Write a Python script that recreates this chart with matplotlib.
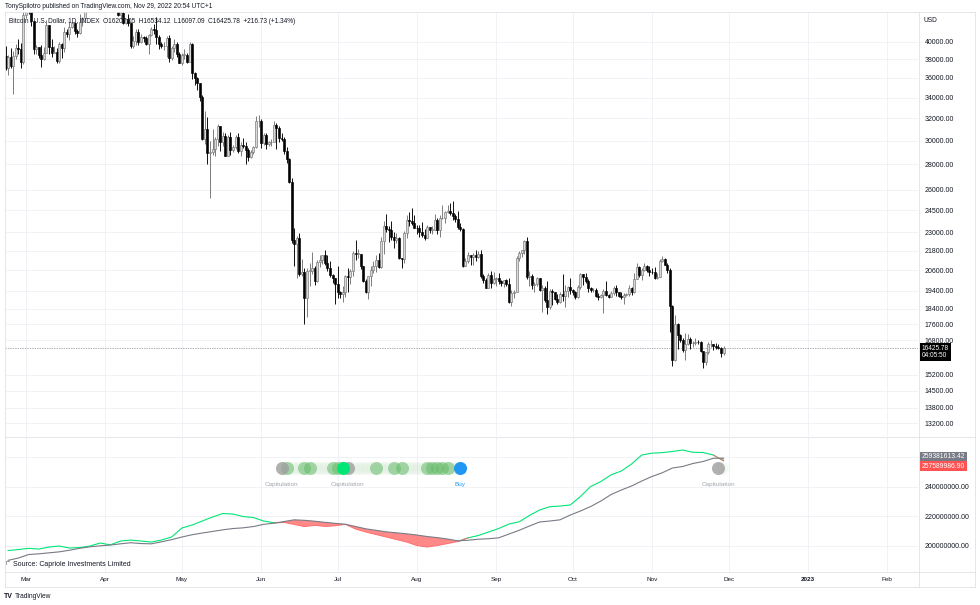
import numpy as np
import pandas as pd
import matplotlib
matplotlib.use('Agg')
import matplotlib.pyplot as plt
import matplotlib.dates as mdates
from matplotlib.lines import Line2D

plt.rcParams['font.family'] = ['Liberation Sans', 'DejaVu Sans']

W, H = 980, 605

# --- daily BTC candles, 21 Feb 2022 .. 29 Nov 2022 (open = previous close) ---
first_open = 38380
closes = [
    37020, 38250, 37250, 38330, 39220, 39110, 37700, 43180,  # Feb
    44420, 43900, 42450, 39150, 39400, 38420, 37990, 38730, 41950, 39430,
    38730, 38810, 37780, 39670, 39280, 41110, 40920, 41770, 42240, 41260,
    41000, 42360, 42890, 43960, 44350, 44500, 46820, 47130, 47430, 47060, 45530,  # Mar
    46280, 45810, 46410, 46580, 45500, 43170, 43440, 42250, 42750, 42160,
    39530, 40080, 41150, 39940, 40550, 40380, 39680, 40800, 41500, 41370,
    40480, 39710, 39450, 39450, 40430, 38110, 39240, 39740, 38600, 37640,  # Apr
    38470, 38520, 37720, 39690, 36550, 36010, 35470, 34060, 30100, 31020,
    28940, 29050, 29280, 30100, 31300, 29850, 30420, 28700, 30310, 29200,
    29430, 30300, 29110, 29650, 29540, 29200, 28630, 29030, 29470, 31730, 31800,  # May
    29800, 30450, 29700, 29860, 29910, 31370, 31130, 30200, 30110, 29090,
    28420, 26570, 22490, 22210, 22580, 20380, 20470, 19000, 20550, 20570,
    20720, 19970, 21100, 21230, 21500, 21040, 20740, 20280, 20100, 19780,  # Jun
    19300, 19240, 19300, 20230, 20190, 20550, 21620, 21590, 21590, 20850,
    19960, 19330, 20230, 20590, 20830, 21200, 20790, 22430, 23410, 23230,
    23160, 22680, 22450, 22580, 21310, 21250, 22950, 23850, 23780, 23640, 23300,  # Jul
    23270, 22980, 22820, 22620, 23310, 23170, 23170, 23810, 23160, 23950,
    23950, 24400, 24440, 24310, 24100, 23860, 23340, 23210, 20830, 21140,
    21520, 21400, 21530, 21370, 21560, 20240, 20040, 19550, 20280, 19810, 20050,  # Aug
    20130, 19950, 19830, 19990, 19800, 18790, 19290, 19320, 21360, 21650,
    21830, 22400, 20170, 20230, 19700, 19800, 20110, 19420, 19540, 18870,
    18480, 19400, 19300, 18930, 18800, 19220, 19080, 19410, 19590, 19430,  # Sep
    19310, 19060, 19620, 20340, 20160, 19960, 19530, 19420, 19440, 19130,
    19060, 19150, 19380, 19180, 19070, 19260, 19550, 19330, 19120, 19040,
    19170, 19200, 19570, 19330, 20090, 20770, 20290, 20600, 20820, 20630, 20490,  # Oct
    20480, 20150, 20210, 21150, 21300, 20910, 20590, 18540, 15880, 17590,
    17040, 16800, 16330, 16620, 16880, 16660, 16680, 16700, 16690, 16280,
    15780, 16230, 16600, 16600, 16520, 16460, 16440, 16209, 16426,  # Nov
]
highs = [
    39500, 38450, 39250, 38970, 39700, 40300, 39850, 44000,
    44950, 45400, 44100, 42500, 39650, 39400, 39550, 39350, 42550, 41950,
    40250, 39450, 39300, 39900, 39850, 41700, 41450, 42300, 42400, 42300,
    41550, 43350, 43000, 44200, 45100, 44800, 46900, 48100, 48200, 47650, 47600,
    46700, 47200, 47050, 46850, 47200, 45500, 43900, 43950, 42800, 43400,
    42400, 40700, 41550, 41450, 40850, 40700, 40600, 40950, 41750, 42150,
    42950, 40800, 39950, 39900, 40600, 40800, 39450, 40350, 39900, 38800,
    38650, 39150, 38650, 39950, 39800, 36650, 36100, 35500, 34250, 32650,
    32150, 30000, 31000, 30300, 31450, 31300, 30750, 30650, 30500, 30750,
    29600, 30450, 30650, 29850, 30200, 29850, 29400, 29200, 29550, 32200, 32300,
    31950, 30650, 30650, 29950, 30150, 31750, 31550, 31300, 30650, 30350,
    29450, 28550, 26900, 23300, 22750, 22950, 21300, 20750, 20750, 21000,
    21700, 20850, 21200, 21500, 21550, 21850, 21500, 21150, 20350, 20150,
    20850, 19400, 19650, 20300, 20700, 20650, 21800, 22450, 21900, 21600,
    20850, 20050, 20250, 20850, 21150, 21550, 21650, 22700, 23750, 24250,
    23400, 23750, 23000, 22950, 22650, 21350, 23100, 24200, 24400, 24650, 24150,
    23500, 23450, 23650, 23200, 23450, 23350, 23400, 24250, 23950, 24200,
    24900, 24450, 24900, 25050, 25200, 24250, 24450, 23600, 23250, 21350,
    21700, 21550, 21650, 21850, 21800, 21850, 20350, 20150, 20400, 20550, 20500,
    20200, 20450, 20000, 20000, 20050, 20150, 19450, 19450, 21450, 21800,
    21850, 22450, 22700, 20550, 20350, 19900, 20200, 20150, 19700, 19650,
    19950, 19500, 19500, 19300, 19200, 19300, 20350, 19750, 19650, 20150,
    19480, 19400, 19700, 20450, 20350, 20450, 20050, 19600, 19550, 19550,
    19250, 19220, 19500, 19950, 19200, 19400, 19650, 19700, 19350, 19350,
    19250, 19250, 19700, 19600, 20400, 21000, 20850, 20750, 21050, 20900, 20850,
    20700, 20800, 20400, 21300, 21450, 21350, 21000, 20700, 18600, 18100,
    17650, 17100, 16900, 17150, 17100, 16950, 16750, 16900, 16800, 16750,
    16300, 16250, 16700, 16800, 16600, 16650, 16600, 16480, 16534,
]
lows = [
    36800, 36350, 37050, 34330, 38020, 38570, 37000, 37450,
    42850, 43350, 41850, 38600, 38600, 38100, 37160, 37900, 38650, 38550,
    38230, 38650, 37580, 37600, 38150, 38850, 40550, 40200, 41650, 40950,
    40500, 40900, 41900, 42600, 43600, 44100, 44400, 46650, 46950, 46550, 45200,
    44250, 45650, 45550, 45150, 45350, 43100, 42750, 42100, 42150, 41900,
    39250, 39250, 39600, 39600, 39800, 40000, 39600, 38550, 40600, 40900,
    39750, 39200, 39300, 39000, 38200, 37700, 37900, 38850, 38200, 37600,
    37400, 38050, 37550, 37700, 35850, 35300, 34800, 33700, 30050, 29750,
    28000, 25400, 28800, 28700, 29500, 29100, 29500, 28650, 28700, 28750,
    29000, 29250, 28900, 28700, 29350, 28050, 28300, 28550, 28850, 29400, 31250,
    29350, 29600, 29300, 29500, 29500, 29900, 29250, 29900, 29950, 28850,
    28150, 26550, 22300, 20850, 20100, 20250, 20250, 17600, 17950, 19650,
    20350, 19750, 19900, 20800, 20950, 20900, 20550, 20200, 19850, 18650,
    19000, 19000, 18800, 19050, 19300, 19800, 20250, 21200, 21350, 20650,
    19900, 19250, 18950, 19650, 20400, 20500, 20750, 20750, 21600, 23000,
    22350, 22500, 21950, 22300, 21250, 20700, 21050, 22600, 23400, 23500, 23250,
    22850, 22650, 22700, 22450, 22600, 22950, 22850, 23150, 22900, 22700,
    23900, 23600, 24300, 24150, 23800, 23700, 23200, 23100, 20800, 20850,
    21050, 20900, 20900, 21150, 21350, 20150, 19850, 19550, 19600, 19550, 19800,
    19650, 19800, 19650, 19600, 19650, 18700, 18550, 19000, 19300, 21150,
    21400, 21600, 20050, 19650, 19500, 19350, 19650, 19400, 18250, 18750,
    18150, 18400, 18600, 18900, 18650, 18700, 18850, 18500, 19050, 19200,
    19160, 18950, 19000, 19500, 19750, 19850, 19350, 19350, 19320, 19050,
    18900, 18970, 18200, 19100, 18980, 19060, 19150, 19100, 19050, 18950,
    18650, 19100, 19080, 19150, 19250, 20050, 20200, 20000, 20550, 20500, 20250,
    20350, 20050, 20050, 20200, 21100, 20900, 20400, 17200, 15600, 15800,
    16400, 16700, 16250, 15850, 16550, 16400, 16450, 16550, 16600, 16250,
    15480, 15650, 16150, 16450, 16350, 16400, 16400, 15990, 16097,
]
last_price = 16425.78

# --- hash ribbon (millions), one reading every 4 days from 22 Feb ---
ribbon_fast = [
    196.75, 197.42, 198.24, 197.76, 199.12, 199.80, 198.44, 198.78, 199.80, 201.83,
    200.61, 203.19, 203.86, 203.19, 202.51, 203.86, 205.90, 212.00, 214.03, 216.75,
    219.46, 221.83, 221.49, 219.80, 219.12, 216.75, 215.60, 215.80, 214.40, 213.00,
    213.80, 213.10, 213.50, 214.50, 211.32, 209.29, 207.59, 205.90, 204.20, 202.51,
    200.14, 199.12, 200.14, 201.49, 202.85, 205.36, 206.92, 209.29, 211.66, 214.71,
    216.20, 220.48, 224.20, 226.44, 226.92, 227.59, 233.36, 240.14, 243.53, 248.07,
    250.65, 255.39, 261.49, 262.72, 263.12, 263.87, 264.88, 263.33, 263.19, 261.49,
    257.59,
]
ribbon_slow = [
    190.10, 191.66, 194.03, 194.51, 195.19, 195.86, 196.95, 198.24, 199.25, 199.93,
    200.47, 201.29, 202.03, 201.49, 201.29, 202.64, 204.14, 205.90, 207.46, 208.61,
    209.70, 210.78, 211.66, 212.14, 213.02, 214.51, 215.26, 216.41, 217.56, 217.22,
    216.61, 215.87, 215.19, 214.58, 213.02, 211.46, 210.44, 209.42, 208.75, 208.07,
    207.25, 206.24, 205.49, 204.54, 203.32, 203.73, 204.41, 204.75, 205.36, 207.93,
    210.44, 213.36, 216.07, 216.75, 217.56, 220.81, 223.53, 226.58, 230.31, 234.71,
    237.76, 240.48, 243.87, 246.92, 249.43, 252.68, 253.70, 255.73, 257.09, 259.26,
    259.38,
]
fast_label = '257589986.90'
slow_label = '259381613.42'

# --- signal dots ---
dots_gray = ['2022-06-09', '2022-07-05', '2022-11-27']
dots_green = ['2022-06-11', '2022-06-18', '2022-06-20', '2022-06-29', '2022-07-01',
              '2022-07-16', '2022-07-23', '2022-07-26', '2022-08-05', '2022-08-07',
              '2022-08-09', '2022-08-11', '2022-08-13']
dots_bright = ['2022-07-03']
dots_buy = ['2022-08-18']
signal_windows = [('2022-06-09', '2022-08-18'), ('2022-11-27', '2022-11-29')]

price_ticks = [13200, 13800, 14500, 15200, 16800, 17600, 18400, 19400, 20600, 21800,
               23000, 24500, 26000, 28000, 30000, 32000, 34000, 36000, 38000, 40000]
ribbon_ticks = [200, 220, 240, 260]
ribbon_tick_labels = ['200000000.00', '220000000.00', '240000000.00', '']
month_starts = pd.date_range('2022-03-01', '2023-02-01', freq='MS')
month_labels = ['Mar', 'Apr', 'May', 'Jun', 'Jul', 'Aug', 'Sep', 'Oct', 'Nov',
                'Dec', '2023', 'Feb']


def fx(p):
    return p / W


def fy(p):
    return 1 - p / H


def d2n(s):
    # dates (string, list or DatetimeIndex) -> matplotlib day numbers
    return mdates.date2num(pd.DatetimeIndex(np.atleast_1d(s)).to_pydatetime())


fig = plt.figure(figsize=(W / 100, H / 100), dpi=100)
ax1 = fig.add_axes([fx(5), fy(436), fx(918) - fx(5), fy(12) - fy(436)])
ax2 = fig.add_axes([fx(5), fy(572), fx(918) - fx(5), fy(437) - fy(572)])

grid_c = '#eef0f4'
text_c = '#131722'
border_c = '#dfe2e8'
up_c = '#747474'

# ---------- candles ----------
c = np.array(closes, dtype=float)
o = np.r_[first_open, c[:-1]]
hi = np.maximum(np.array(highs, float), np.maximum(o, c))
lo = np.minimum(np.array(lows, float), np.minimum(o, c))
x = d2n(pd.date_range('2022-02-21', periods=len(c), freq='D'))
up = c >= o
wick_cols = np.where(up, up_c, '#000000')
face_cols = np.where(up, '#d9d9d9', '#000000')

ax1.vlines(x, lo, hi, colors=wick_cols, lw=0.65, zorder=3)
body = np.maximum(np.abs(c - o), c * 0.0015)
ax1.bar(x, body, bottom=np.minimum(o, c), width=0.78, color=face_cols,
        edgecolor=wick_cols, linewidth=0.45, zorder=4)

ax1.set_yscale('log')
ax1.set_ylim(12720, 43590)
ax1.axhline(last_price, color='#8a8e99', lw=0.5, ls=(0, (2, 1.5)), zorder=2)

mx0 = d2n('2022-03-01')[0]
xlim = (mx0 - 21 / 2.555, mx0 + 892 / 2.555)
for ax in (ax1, ax2):
    ax.set_xlim(*xlim)
    ax.set_xticks(d2n(month_starts))
    ax.grid(True, color=grid_c, lw=0.6, zorder=0)
    ax.set_axisbelow(True)
    for sp in ax.spines.values():
        sp.set_visible(False)
    ax.yaxis.tick_right()
    ax.tick_params(axis='y', length=0, pad=5, labelsize=5, labelcolor=text_c)
    ax.tick_params(axis='x', length=0)

ax1.set_yticks(price_ticks)
ax1.set_yticklabels([f'{v:.2f}' for v in price_ticks])
ax1.yaxis.set_minor_locator(matplotlib.ticker.NullLocator())
ax1.set_xticklabels([])

ax1.annotate(f'{last_price:.2f}\n04:05:50', xy=(1, last_price),
             xycoords=ax1.get_yaxis_transform(), xytext=(2.5, -3.0),
             textcoords='offset points', ha='left', va='center', fontsize=4.7,
             color='white', linespacing=1.05,
             bbox=dict(boxstyle='square,pad=0.3', fc='#000000', ec='none'),
             annotation_clip=False)

# ---------- hash ribbon ----------
xr = d2n(pd.date_range('2022-02-22', periods=len(ribbon_fast), freq='4D'))
g = np.array(ribbon_fast)
s = np.array(ribbon_slow)
below = g < s
below_ext = below | np.r_[below[1:], False] | np.r_[False, below[:-1]]
above_ext = ~below | np.r_[~below[1:], False] | np.r_[False, ~below[:-1]]
ax2.fill_between(xr, g, s, where=below, interpolate=True, color='#ff5252',
                 alpha=0.68, lw=0, zorder=2)
ax2.plot(xr, np.where(above_ext, g, np.nan), color='#00e676', lw=0.8, zorder=3)
ax2.plot(xr, np.where(below_ext, g, np.nan), color='#ff6e6e', lw=0.7, zorder=3)
ax2.plot(xr, s, color='#787b86', lw=0.8, zorder=4)

ax2.set_ylim(182.2, 273.7)
ax2.set_yticks(ribbon_ticks)
ax2.set_yticklabels(ribbon_tick_labels)
ax2.set_xticklabels(month_labels)
ax2.tick_params(axis='x', pad=3.5, labelsize=4.6, labelcolor=text_c)
ax2.get_xticklabels()[10].set_fontweight('bold')

# signal dots
DOT = 252.7
for a, b in signal_windows:
    days = d2n(pd.date_range(a, b, freq='D'))
    ax2.scatter(days, np.full(len(days), DOT), s=88, color='#66bb6a', alpha=0.035,
                lw=0, zorder=5)
ax2.scatter(d2n(dots_green), np.full(len(dots_green), DOT), s=88, color='#66bb6a',
            alpha=0.55, lw=0, zorder=6)
ax2.scatter(d2n(dots_gray), np.full(len(dots_gray), DOT), s=88, color='#9e9e9e',
            alpha=0.8, lw=0, zorder=7)
ax2.scatter(d2n(dots_bright), np.full(len(dots_bright), DOT), s=88, color='#00e676',
            lw=0, zorder=8)
ax2.scatter(d2n(dots_buy), np.full(len(dots_buy), DOT), s=88, color='#2196f3',
            lw=0, zorder=8)
for d in dots_gray:
    ax2.annotate('Capitulation', (d2n(d)[0], DOT), xytext=(0, -12),
                 textcoords='offset points', ha='center', va='center',
                 fontsize=4.6, color='#a3a6af')
for d in dots_buy:
    ax2.annotate('Buy', (d2n(d)[0], DOT), xytext=(0, -12), textcoords='offset points',
                 ha='center', va='center', fontsize=4.6, color='#2196f3')

# value boxes on the ribbon scale
ax2.text(1.004, (572 - 457) / 135, slow_label, transform=ax2.transAxes, ha='left',
         va='center', fontsize=4.9, color='white',
         bbox=dict(boxstyle='square,pad=0.25', fc='#787b86', ec='none'))
ax2.text(1.004, (572 - 466) / 135, fast_label, transform=ax2.transAxes, ha='left',
         va='center', fontsize=4.9, color='white',
         bbox=dict(boxstyle='square,pad=0.25', fc='#ff5252', ec='none'))


# ---------- frame lines ----------
def hline(py, x0=5, x1=975):
    fig.add_artist(Line2D([fx(x0), fx(x1)], [fy(py), fy(py)], color=border_c, lw=0.6))


def vline(px, y0=12, y1=587):
    fig.add_artist(Line2D([fx(px), fx(px)], [fy(y0), fy(y1)], color=border_c, lw=0.6))


for py in (12, 436.5, 572, 587):
    hline(py)
for px in (5, 919, 975):
    vline(px)

# ---------- texts ----------
fig.text(fx(5), fy(6.7), 'TonySpilotro published on TradingView.com, Nov 29, 2022 20:54 UTC+1',
         fontsize=4.7, color=text_c, va='center')
fig.text(fx(9), fy(21.5),
         'Bitcoin / U.S. Dollar, 1D, INDEX  O16207.05  H16534.12  L16097.09  '
         'C16425.78  +216.73 (+1.34%)',
         fontsize=4.7, color=text_c, va='center')
fig.text(fx(923), fy(20), 'USD', fontsize=4.8, color=text_c, va='center')
fig.add_artist(Line2D([fx(6), fx(6), fx(9)], [fy(563.5), fy(561), fy(561)],
                      color='#787b86', lw=0.5))
fig.text(fx(13), fy(564), 'Source: Capriole Investments Limited', fontsize=5,
         color=text_c, va='center')
fig.text(fx(4), fy(597), 'TV', fontsize=5, fontweight='bold', color=text_c, va='center')
fig.text(fx(15), fy(597), 'TradingView', fontsize=4.8, color=text_c, va='center')

fig.savefig('out.png', dpi=100, facecolor='white')
